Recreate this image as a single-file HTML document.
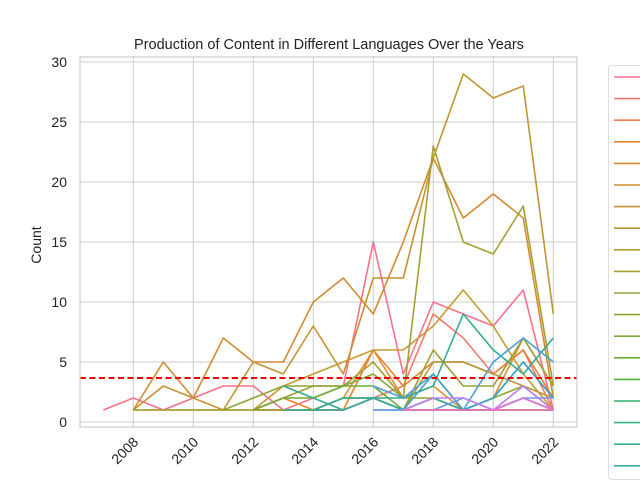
<!DOCTYPE html>
<html><head><meta charset="utf-8"><style>
html,body{margin:0;background:#fff;width:640px;height:480px;overflow:hidden;}
svg{display:block;font-family:"Liberation Sans","DejaVu Sans",sans-serif;}
</style></head><body>
<svg id="chart" width="640" height="480" viewBox="0 0 640 480" xmlns="http://www.w3.org/2000/svg" overflow="hidden">
<rect x="0" y="0" width="640" height="480" fill="#fff"/>
<text x="329" y="49" text-anchor="middle" font-size="14.5" fill="#222">Production of Content in Different Languages Over the Years</text>
<text x="41" y="245" text-anchor="middle" font-size="14" fill="#222" transform="rotate(-90 41 245)">Count</text>
<g id="grid"></g><g id="lines"></g><g id="ticks"></g>
<line id="thr" x1="80" x2="577" stroke="#e00" stroke-width="2" stroke-dasharray="6,3.5"/>
<rect x="80" y="57" width="497" height="370" fill="none" stroke="#ccc" stroke-width="1.2"/>
<rect x="608.5" y="65.5" width="40" height="414" rx="3" fill="#fff" stroke="#ddd"/>
<g id="legend"></g>
</svg>
<script>
const years=[2007,2008,2009,2010,2011,2012,2013,2014,2015,2016,2017,2018,2019,2020,2021,2022];
const yTicks=[0,5,10,15,20,25,30];
const xTicks=[2008,2010,2012,2014,2016,2018,2020,2022];
const threshold=3.67;
const seriesColors=["#f77189","#f37a6b","#f37f55","#e8832e","#dc8932","#d08e32","#c49332","#ba9733","#b09b33","#a59f33","#9aa233","#8ca634","#7ea934","#6cad33","#4eb033","#34af6a","#36ad84","#37ab96","#3aa9a6"];
const sPink=[1,2,1,2,3,3,1,2,3,15,4,10,9,8,11,1];
const sSalmon=[null,null,null,null,null,null,null,1,1,2,3,9,7,4,6,1];
const sCoral=[null,null,null,null,null,1,1,1,1,2,1,2,1,1,1,1];
const sOrange1=[null,null,null,null,null,1,2,1,1,6,3,5,5,4,6,2];
const sOrange2=[null,1,5,2,7,5,5,10,12,9,15,22,17,19,17,2];
const sOrange3=[null,null,null,null,null,1,1,1,2,6,2,3,1,2,7,3];
const sGold1=[null,1,3,2,1,5,4,8,4,12,12,22,29,27,28,9];
const sGold2=[null,1,1,1,1,1,3,4,5,6,6,8,11,8,4,1];
const sGold3=[null,null,null,null,null,1,1,1,2,2,1,5,5,4,3,2];
const sOlive1=[null,1,1,1,1,1,2,3,3,5,2,23,15,14,18,3];
const sOlive2=[null,null,null,null,null,1,1,1,1,2,1,6,3,3,7,3];
const sOlive3=[null,null,null,null,1,2,3,3,3,4,2,2,1,2,3,1];
const sGreen1=[null,null,null,null,null,1,2,2,3,3,1,2,1,1,2,1];
const sGreen2=[null,null,null,null,null,null,1,1,2,2,1,1,1,1,1,1];
const sTeal1=[null,null,null,null,null,null,3,2,1,2,2,3,9,6,4,7];
const sTeal2=[null,null,null,null,null,null,1,1,2,2,1,2,1,2,5,2];
const sTeal3=[null,null,null,null,null,null,null,1,1,2,1,1,1,1,2,1];
const sBlue1=[null,null,null,null,null,null,null,null,null,3,2,4,1,5,7,5];
const sBlue2=[null,null,null,null,null,null,null,null,null,1,1,4,1,2,5,2];
const sBlue3=[null,null,null,null,null,null,null,null,null,1,1,1,2,1,2,2];
const sPurple=[null,null,null,null,null,null,null,null,null,null,1,2,2,1,3,1];
const sMagenta=[null,null,null,null,null,null,null,null,null,null,1,1,1,1,2,1];
const sPink2=[null,null,null,null,null,null,null,null,null,null,1,1,1,1,1,1];
const allSeries=[sPink,sSalmon,sCoral,sOrange1,sOrange2,sOrange3,sGold1,sGold2,sGold3,sOlive1,sOlive2,sOlive3,sGreen1,sGreen2,sTeal1,sTeal2,sTeal3,sBlue1,sBlue2,sBlue3,sPurple,sMagenta,sPink2];
const lineColors=["#f77189","#f37a6b","#f37f55","#e8832e","#d48a30","#e09030","#c49332","#c89a30","#ba9733","#a5a033","#9aa233","#8ca634","#6cad33","#4eb033","#34ab8e","#38aa9b","#3aa9a6","#4aa0dc","#3ea3c3","#6a9ae8","#c37cf1","#e46fde","#f06eb0"];
const X=v=>103.3+(v-2007)*30, Y=v=>422-v*12;
const NS="http://www.w3.org/2000/svg";
const mk=(t,a,p)=>{const e=document.createElementNS(NS,t);for(const k in a)e.setAttribute(k,a[k]);p.appendChild(e);return e;};
const grid=document.getElementById('grid'),ticks=document.getElementById('ticks'),lines=document.getElementById('lines'),leg=document.getElementById('legend');
yTicks.forEach(v=>{
 const g=mk('line',{x1:80,x2:577,y1:Y(v),y2:Y(v),stroke:'#ccc','stroke-width':1},grid);
 
 
 const t=mk('text',{x:67,y:Y(v)+5,'text-anchor':'end','font-size':14,fill:'#222'},ticks);
 
 
 t.textContent=v;
});
xTicks.forEach(v=>{
 const g=mk('line',{x1:X(v),x2:X(v),y1:57,y2:427,stroke:'#ccc','stroke-width':1},grid);
 
 
 const t=mk('text',{x:X(v)+6,y:443,'text-anchor':'end','font-size':14,fill:'#222',transform:`rotate(-45 ${X(v)+6} 443)`},ticks);
 
 
 t.textContent=v;
});
allSeries.forEach((s,i)=>{
 let d='';let first=true;
 s.forEach((v,j)=>{if(v===null)return;d+=(first?'M':'L')+X(years[j]).toFixed(1)+','+Y(v).toFixed(1);first=false;});
 const p=mk('path',{d:d,fill:'none',stroke:lineColors[i],'stroke-width':1.6,'stroke-linejoin':'round'},lines);
 
 
});
const thr=document.getElementById('thr');thr.setAttribute('y1',Y(threshold));thr.setAttribute('y2',Y(threshold));
seriesColors.forEach((c,i)=>{
 const y=77+i*21.6;
 const l=mk('line',{x1:614,x2:640,y1:y,y2:y,stroke:c,'stroke-width':1.6},leg);
 
 
});
</script>
</body></html>
